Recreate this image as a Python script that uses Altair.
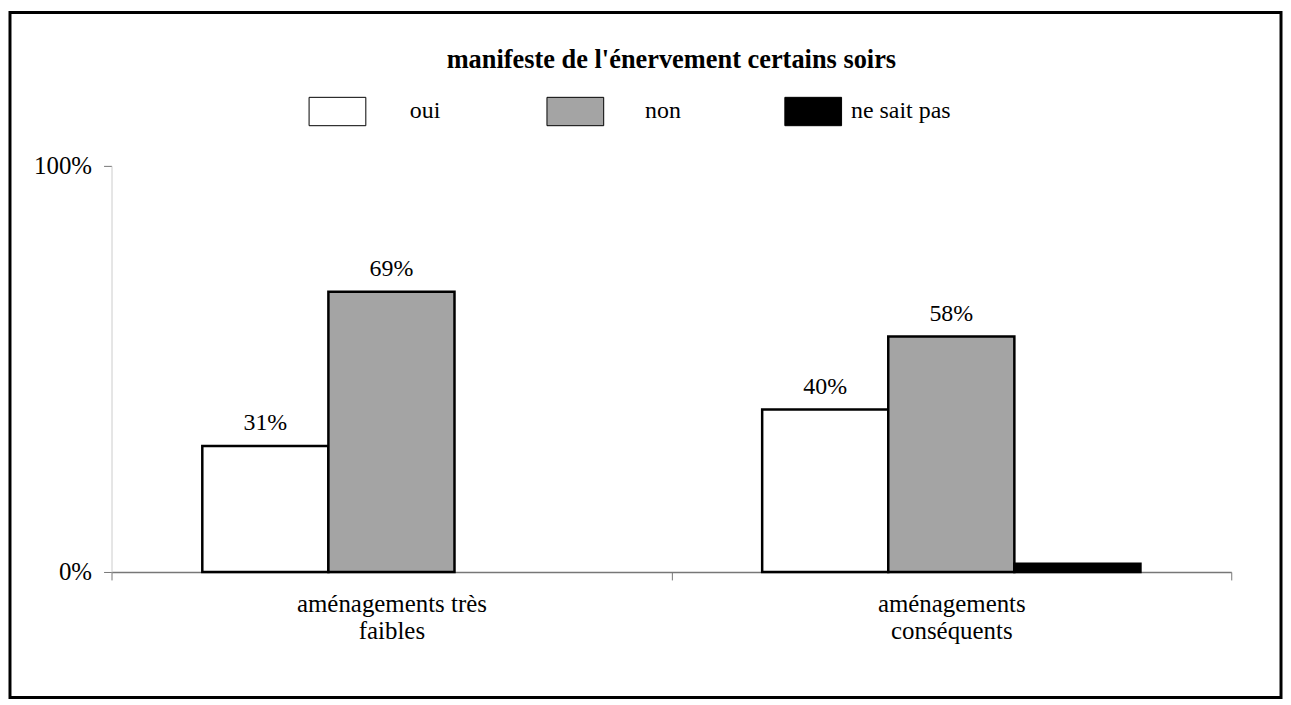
import altair as alt
import pandas as pd

# ---- data ----
categories = ["aménagements très\nfaibles", "aménagements\nconséquents"]
responses = ["oui", "non", "ne sait pas"]
oui_values = [0.31, 0.40]
non_values = [0.69, 0.58]
nsp_values = [0.00, 0.02]
title_text = "manifeste de l'énervement certains soirs"
y_ticks = [0, 1]
fill_colors = ["#ffffff", "#a4a4a4", "#000000"]

rows = []
for i, c in enumerate(categories):
    for r, vals in zip(responses, [oui_values, non_values, nsp_values]):
        rows.append({"groupe": c, "reponse": r, "valeur": vals[i]})
df = pd.DataFrame(rows)

W, H = 1125, 408
FONT = "Liberation Serif"

x_enc = alt.X(
    "groupe:N",
    sort=categories,
    scale=alt.Scale(paddingInner=0, paddingOuter=0),
    axis=alt.Axis(
        title=None,
        labelAngle=0,
        labelExpr="split(datum.label, '\\n')",
        labelFont=FONT,
        labelFontSize=25,
        labelLineHeight=27,
        labelLimit=400,
        labelColor="black",
        labelPadding=12,
        tickBand="extent",
        tickSize=8,
        tickColor="#777777",
        domainColor="#777777",
        domainWidth=1.5,
    ),
)
xoff_enc = alt.XOffset(
    "reponse:N", sort=responses, scale=alt.Scale(paddingOuter=0.72, paddingInner=0)
)
y_enc = alt.Y(
    "valeur:Q",
    scale=alt.Scale(domain=[0, 1]),
    axis=alt.Axis(
        title=None,
        values=y_ticks,
        format="%",
        labelFont=FONT,
        labelFontSize=25,
        labelColor="black",
        labelPadding=12,
        tickSize=8,
        tickColor="#777777",
        domainColor="#cccccc",
        grid=False,
    ),
)

base = alt.Chart(df)

bars = base.transform_filter("datum.valeur > 0").mark_bar(
    stroke="black", strokeWidth=2.5
).encode(
    x=x_enc,
    xOffset=xoff_enc,
    y=y_enc,
    fill=alt.Fill(
        "reponse:N",
        sort=responses,
        scale=alt.Scale(domain=responses, range=fill_colors),
        legend=alt.Legend(
            title=None,
            orient="none",
            legendX=198,
            legendY=-84,
            direction="horizontal",
            columns=3,
            gridAlign="all",
            columnPadding=70,
            padding=0,
            symbolType="M-1,-0.5H1V0.5H-1Z",
            symbolSize=3249,
            symbolStrokeColor="black",
            symbolStrokeWidth=1,
            symbolOpacity=1,
            labelFont=FONT,
            labelFontSize=24,
            labelColor="black",
            labelAlign="center",
            labelOffset=59,
        ),
    ),
)

labels = base.transform_filter(
    "datum.reponse != 'ne sait pas'"
).transform_calculate(
    etiquette="format(datum.valeur, '.0%')"
).mark_text(
    font=FONT, fontSize=24, baseline="alphabetic", dy=-16, color="black"
).encode(
    x=x_enc,
    xOffset=xoff_enc,
    y=y_enc,
    text="etiquette:N",
)

title = alt.Chart(pd.DataFrame({"titre": [title_text]})).mark_text(
    font=FONT, fontSize=26.5, fontWeight="bold", baseline="middle", align="center", color="black"
).encode(text="titre:N", x=alt.value(W / 2), y=alt.value(-106))

frame = alt.Chart(pd.DataFrame({"cadre": [1]})).mark_rect(
    fillOpacity=0, stroke="black", strokeWidth=3
).encode(x=alt.value(-102), x2=alt.value(1175), y=alt.value(-154), y2=alt.value(534))

chart = alt.layer(frame, bars, labels, title).properties(
    width=W,
    height=H,
    autosize=alt.AutoSizeParams(type="none"),
    padding={"left": 104, "top": 157, "right": 52, "bottom": 128},
    background="white",
).configure_view(stroke=None)

chart.save("out.html", embed_options={"renderer": "svg", "actions": False})
